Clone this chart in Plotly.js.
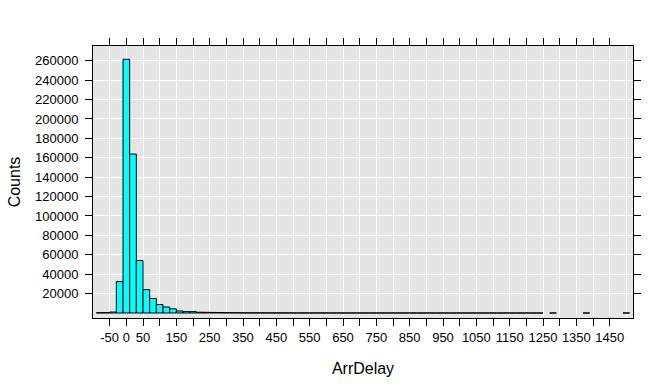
<!DOCTYPE html>
<html>
<head>
<meta charset="utf-8">
<script src="https://cdn.plot.ly/plotly-3.0.1.min.js"></script>
<style>
  html, body { margin: 0; padding: 0; background: #ffffff; }
  #chart { width: 672px; height: 389px; }
</style>
</head>
<body>
<div id="chart"></div>
<script>
// Histogram of ArrDelay: bin midpoints (bin width 20) and counts
var binMid = [
  -80, -60, -40, -20, 0, 20, 40, 60, 80, 100,
  120, 140, 160, 180, 200, 220, 240, 260, 280, 300,
  320, 340, 360, 380, 400, 420, 440, 460, 480, 500,
  520, 540, 560, 580, 600, 620, 640, 660, 680, 700,
  720, 740, 760, 780, 800, 820, 840, 860, 880, 900,
  920, 940, 960, 980, 1000, 1020, 1040, 1060, 1080, 1100,
  1120, 1140, 1160, 1180, 1200, 1220, 1240, 1260, 1280, 1300,
  1320, 1340, 1360, 1380, 1400, 1420, 1440, 1460, 1480, 1500
];
var counts = [
  300, 400, 1000, 32400, 261500, 163800, 54100, 24100, 14900, 8700,
  6200, 4300, 2100, 1400, 1400, 800, 700, 600, 500, 400,
  320, 260, 210, 170, 140, 120, 100, 85, 75, 65,
  55, 48, 42, 36, 32, 28, 25, 22, 20, 18,
  16, 14, 13, 12, 11, 10, 9, 8, 8, 7,
  7, 6, 6, 5, 5, 5, 4, 4, 3, 3,
  3, 2, 2, 2, 2, 1, 1, 0, 3, 0,
  0, 0, 0, 2, 0, 0, 0, 0, 0, 1
];
var binWidth = 20;

var xTickVals = [
  -50, 0, 50, 100, 150, 200, 250, 300, 350, 400, 450, 500, 550, 600, 650, 700,
  750, 800, 850, 900, 950, 1000, 1050, 1100, 1150, 1200, 1250, 1300, 1350, 1400, 1450
];
var xTickText = [
  "-50", "0", "50", "", "150", "", "250", "", "350", "", "450", "", "550", "", "650", "",
  "750", "", "850", "", "950", "", "1050", "", "1150", "", "1250", "", "1350", "", "1450"
];
var yTickVals = [20000, 40000, 60000, 80000, 100000, 120000, 140000, 160000, 180000, 200000, 220000, 240000, 260000];
var yTickText = ["20000", "40000", "60000", "80000", "100000", "120000", "140000", "160000", "180000", "200000", "220000", "240000", "260000"];

// empty bins are not drawn at all
var trace = {
  type: "bar",
  x: binMid,
  y: counts.map(function (c) { return c === 0 ? null : c; }),
  width: binMid.map(function () { return binWidth; }),
  marker: { color: "#00FFFF", line: { color: "#000000", width: 1 } },
  hoverinfo: "x+y"
};

var font = { family: "Liberation Sans, Arial, sans-serif", color: "#000000" };

var layout = {
  width: 672,
  height: 389,
  paper_bgcolor: "#ffffff",
  plot_bgcolor: "#E5E5E5",
  margin: { l: 93, r: 39, t: 46, b: 71, pad: 0 },
  showlegend: false,
  bargap: 0,
  font: { family: font.family, size: 13, color: "#000000" },
  xaxis: {
    range: [-100, 1520],
    tickmode: "array",
    tickvals: xTickVals,
    ticktext: xTickText,
    ticks: "outside",
    ticklen: 7,
    tickwidth: 1,
    tickcolor: "#000000",
    showline: true,
    linecolor: "#000000",
    linewidth: 1,
    mirror: "ticks",
    showgrid: true,
    gridcolor: "#ffffff",
    gridwidth: 1,
    zeroline: false,
    tickangle: 0,
    tickfont: { family: font.family, size: 13, color: "#000000" },
    minor: { tickmode: "array", tickvals: [1500], showgrid: true, gridcolor: "#ffffff", gridwidth: 1, ticks: "" },
    title: { text: "ArrDelay", font: { family: font.family, size: 16, color: "#000000" }, standoff: 19 },
    automargin: false
  },
  yaxis: {
    range: [-5160, 275190],
    tickmode: "array",
    tickvals: yTickVals,
    ticktext: yTickText,
    ticks: "outside",
    ticklen: 7,
    tickwidth: 1,
    tickcolor: "#000000",
    ticklabelstandoff: 4,
    showline: true,
    linecolor: "#000000",
    linewidth: 1,
    mirror: "ticks",
    showgrid: true,
    gridcolor: "#ffffff",
    gridwidth: 1,
    zeroline: false,
    tickfont: { family: font.family, size: 13, color: "#000000" },
    title: { text: "Counts", font: { family: font.family, size: 16, color: "#000000" }, standoff: 10 },
    automargin: false
  }
};

Plotly.newPlot("chart", [trace], layout, { displayModeBar: false, staticPlot: true });
</script>
</body>
</html>
